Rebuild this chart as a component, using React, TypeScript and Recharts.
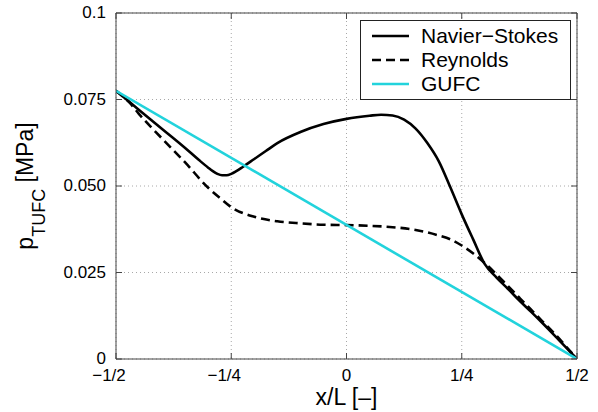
import React from 'react';
import { LineChart, Line, XAxis, YAxis, CartesianGrid, Legend } from 'recharts';

// Navier–Stokes solution
const nsX = [-0.5, -0.45, -0.4, -0.35, -0.32, -0.3, -0.29, -0.28, -0.27, -0.26, -0.25, -0.24, -0.225, -0.2, -0.175, -0.15, -0.1, -0.05, 0, 0.05, 0.075, 0.1, 0.125, 0.15, 0.175, 0.2, 0.225, 0.25, 0.275, 0.3, 0.325, 0.35, 0.375, 0.4, 0.425, 0.45, 0.475, 0.5];
const nsP = [0.0775, 0.072, 0.0665, 0.061, 0.0575, 0.0553, 0.0543, 0.0535, 0.0531, 0.0531, 0.0535, 0.0542, 0.0555, 0.0578, 0.0601, 0.0624, 0.0656, 0.0679, 0.0694, 0.0703, 0.0706, 0.0704, 0.0692, 0.0666, 0.0625, 0.0572, 0.0497, 0.0418, 0.0345, 0.0274, 0.0236, 0.0203, 0.0169, 0.0137, 0.0104, 0.007, 0.0035, 0];

// Reynolds solution
const reX = [-0.5, -0.47, -0.45, -0.4, -0.35, -0.3, -0.275, -0.25, -0.2, -0.15, -0.1, -0.05, 0, 0.05, 0.1, 0.15, 0.2, 0.225, 0.25, 0.275, 0.3, 0.325, 0.35, 0.375, 0.4, 0.425, 0.45, 0.475, 0.5];
const reP = [0.0775, 0.074, 0.0708, 0.0637, 0.0568, 0.0495, 0.0466, 0.0439, 0.0411, 0.0398, 0.0392, 0.0388, 0.0387, 0.0385, 0.0381, 0.0373, 0.0357, 0.0346, 0.0328, 0.0305, 0.0277, 0.0245, 0.0211, 0.0177, 0.0143, 0.0109, 0.0075, 0.0038, 0];

// GUFC solution
const gufcX = [-0.5, 0.5];
const gufcP = [0.0775, 0];

const xTicks = [-0.5, -0.25, 0, 0.25, 0.5];
const xTickLabels = ['−1/2', '−1/4', '0', '1/4', '1/2'];
const yTicks = [0, 0.025, 0.05, 0.075, 0.1];
const yTickLabels = ['0', '0.025', '0.050', '0.075', '0.1'];

const seriesNames = ['Navier−Stokes', 'Reynolds', 'GUFC'];

const toRows = (xs: number[], ys: number[]) => xs.map((x, i) => ({ x, p: ys[i] }));
const nsData = toRows(nsX, nsP);
const reData = toRows(reX, reP);
const gufcData = toRows(gufcX, gufcP);

const FONT = '"Liberation Sans", Arial, Helvetica, sans-serif';
const CYAN = '#22d3dc';

const styles: Record<string, { stroke: string; dash?: string; width: number }> = {
  'Navier−Stokes': { stroke: '#000000', width: 2.6 },
  Reynolds: { stroke: '#000000', dash: '9 5', width: 2.6 },
  GUFC: { stroke: CYAN, width: 2.6 },
};

const XTick = (props: any) => {
  const { x, y, payload } = props;
  const idx = xTicks.indexOf(payload.value);
  const label = idx >= 0 ? xTickLabels[idx] : '';
  const shift = label.startsWith('−') ? -7 : 0;
  return (
    <text x={x + shift} y={y} dy="0.71em" textAnchor="middle" fontSize={17} fill="#000" fontFamily={FONT}>
      {label}
    </text>
  );
};

const YTick = (props: any) => {
  const { x, y, payload } = props;
  const idx = yTicks.indexOf(payload.value);
  const label = idx >= 0 ? yTickLabels[idx] : '';
  return (
    <text x={x} y={y} dy="0.3em" textAnchor="end" fontSize={17} fill="#000" fontFamily={FONT}>
      {label}
    </text>
  );
};

const XLabel = (props: any) => {
  const vb = props.viewBox || { x: 116, y: 359, width: 461 };
  return (
    <text x={vb.x + vb.width / 2} y={vb.y + 46} textAnchor="middle" fontSize={23} fill="#000" fontFamily={FONT}>
      x/L [–]
    </text>
  );
};

const YLabel = (props: any) => {
  const vb = props.viewBox || { x: 0, y: 13, width: 116, height: 346 };
  const cx = vb.x + 33;
  const cy = vb.y + vb.height / 2;
  return (
    <text
      x={cx}
      y={cy}
      textAnchor="middle"
      fontSize={23}
      fill="#000"
      fontFamily={FONT}
      transform={`rotate(-90, ${cx}, ${cy})`}
      style={{ whiteSpace: 'pre' }}
    >
      <tspan>p</tspan>
      <tspan fontSize={18} dy={12}>TUFC</tspan>
      <tspan dy={-12}>{' [MPa]'}</tspan>
    </text>
  );
};

const LegendBox = (props: any) => {
  const payload: any[] = props.payload || [];
  const ordered = seriesNames
    .map((n) => payload.find((p) => p.value === n))
    .filter(Boolean);
  return (
    <div
      style={{
        border: '1px solid #222',
        background: '#fff',
        padding: '3px 0',
        boxSizing: 'border-box',
        width: 211,
        fontFamily: FONT,
      }}
    >
      {ordered.map((entry: any) => {
        const s = styles[entry.value];
        return (
          <div key={entry.value} style={{ display: 'flex', alignItems: 'center', height: 24 }}>
            <svg width={37} height={24} style={{ marginLeft: 11, marginRight: 12, display: 'block' }}>
              <line x1={0} y1={12} x2={37} y2={12} stroke={s.stroke} strokeWidth={s.width} strokeDasharray={s.dash} />
            </svg>
            <span style={{ fontSize: 21, lineHeight: '24px', color: '#000', whiteSpace: 'nowrap' }}>{entry.value}</span>
          </div>
        );
      })}
    </div>
  );
};

export default function App() {
  const axisStroke = '#444';
  return (
    <div style={{ position: 'absolute', left: 0, top: 0, background: '#fff' }}>
      <LineChart width={598} height={412} margin={{ top: 12, right: 20, bottom: 23, left: 0 }}>
        <CartesianGrid xAxisId="b" yAxisId="l" stroke="#a8a8a8" strokeDasharray="1 3" />
        <XAxis
          xAxisId="b"
          type="number"
          dataKey="x"
          domain={[-0.5, 0.5]}
          ticks={xTicks}
          allowDataOverflow
          height={30}
          stroke={axisStroke}
          tickSize={-6}
          tickMargin={16}
          tick={<XTick />}
          label={{ content: (p: any) => <XLabel {...p} /> }}
        />
        <XAxis
          xAxisId="t"
          orientation="top"
          type="number"
          dataKey="x"
          domain={[-0.5, 0.5]}
          ticks={xTicks}
          allowDataOverflow
          height={1}
          stroke={axisStroke}
          tickSize={-6}
          tickFormatter={() => ''}
        />
        <YAxis
          yAxisId="l"
          type="number"
          domain={[0, 0.1]}
          ticks={yTicks}
          allowDataOverflow
          width={116}
          stroke={axisStroke}
          tickSize={-6}
          tickMargin={16}
          tick={<YTick />}
          label={{ content: (p: any) => <YLabel {...p} /> }}
        />
        <YAxis
          yAxisId="r"
          orientation="right"
          type="number"
          domain={[0, 0.1]}
          ticks={yTicks}
          allowDataOverflow
          width={1}
          stroke={axisStroke}
          tickSize={-6}
          tickFormatter={() => ''}
        />
        <Line
          xAxisId="b"
          yAxisId="l"
          data={nsData}
          dataKey="p"
          name={seriesNames[0]}
          type="monotone"
          stroke={styles[seriesNames[0]].stroke}
          strokeWidth={styles[seriesNames[0]].width}
          dot={false}
          activeDot={false}
          isAnimationActive={false}
        />
        <Line
          xAxisId="b"
          yAxisId="l"
          data={reData}
          dataKey="p"
          name={seriesNames[1]}
          type="monotone"
          stroke={styles[seriesNames[1]].stroke}
          strokeWidth={styles[seriesNames[1]].width}
          strokeDasharray={styles[seriesNames[1]].dash}
          dot={false}
          activeDot={false}
          isAnimationActive={false}
        />
        <Line
          xAxisId="b"
          yAxisId="l"
          data={gufcData}
          dataKey="p"
          name={seriesNames[2]}
          type="linear"
          stroke={styles[seriesNames[2]].stroke}
          strokeWidth={styles[seriesNames[2]].width}
          dot={false}
          activeDot={false}
          isAnimationActive={false}
        />
        <Legend
          layout="vertical"
          align="center"
          verticalAlign="middle"
          wrapperStyle={{ left: 360, top: 20, width: 211, right: 'auto', bottom: 'auto', margin: 0 }}
          content={<LegendBox />}
        />
      </LineChart>
    </div>
  );
}
